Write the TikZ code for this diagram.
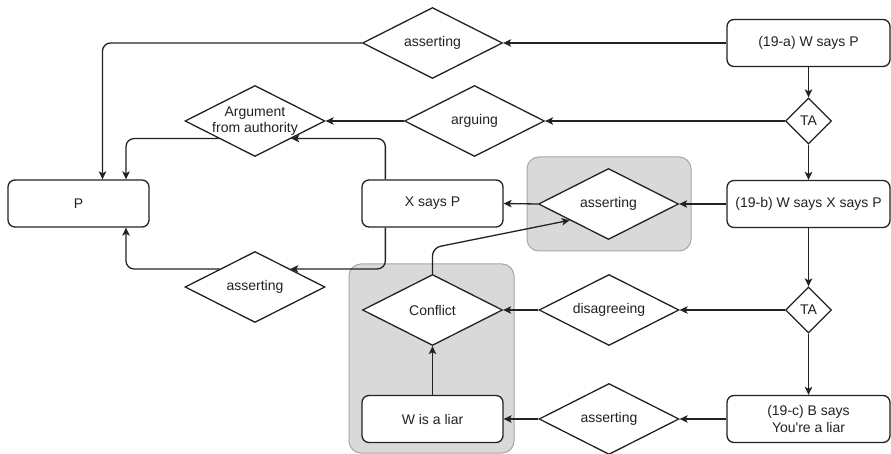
\documentclass[tikz,border=0pt]{standalone}
\usepackage{fontspec}
\setmainfont{Liberation Sans}
\usetikzlibrary{shapes.geometric,arrows.meta,calc}

\definecolor{ink}{HTML}{222222}
\definecolor{groupfill}{HTML}{D9D9D9}
\definecolor{groupline}{HTML}{A6A6A6}

\tikzset{
  every node/.style={font=\fontsize{14}{16.5}\selectfont, text=ink},
  stmt/.style={draw=ink, fill=white, line width=1.3pt, rounded corners=7pt,
    minimum height=47pt, align=center, inner sep=2pt},
  smallbox/.style={stmt, minimum width=141pt},
  widebox/.style={stmt, minimum width=163pt},
  act/.style={diamond, draw=ink, fill=white, line width=1.3pt, inner sep=0pt,
    minimum width=140pt, minimum height=71pt,
    label={[align=center, font=\fontsize{14}{16.5}\selectfont, text=ink]center:#1}},
  ta/.style={diamond, draw=ink, fill=white, line width=1.3pt, inner sep=0pt,
    minimum width=46pt, minimum height=46pt},
  group/.style={draw=groupline, fill=groupfill, line width=1pt, rounded corners=12pt},
  arr/.style={draw=ink, line width=1.3pt, rounded corners=8pt,
    -{Stealth[length=8pt,width=7.5pt,inset=2pt]}}
}

\begin{document}
\begin{tikzpicture}[x=1pt, y=-1pt]
  \useasboundingbox (0,0) rectangle (891,454);

  % shaded groups
  \path[group] (527,157) rectangle (691,251);
  \path[group] (349,264) rectangle (514,453);

  % statements
  \node[smallbox] (P)    at (78.5,203.5) {P};
  \node[smallbox] (xp)   at (432.5,203.5) {X says P};
  \node[smallbox] (liar) at (432.5,419) {W is a liar};
  \node[widebox]  (a19)  at (808.5,43) {(19-a) W says P};
  \node[widebox]  (b19)  at (808.5,204) {(19-b) W says X says P};
  \node[widebox]  (c19)  at (808.5,419) {(19-c) B says\\You\textquotesingle re a liar};

  % TA decision points
  \node[ta] (ta1) at (808.5,121) {TA};
  \node[ta] (ta2) at (808.5,310) {TA};

  % speech acts and relations
  \node[act={asserting}] (as1) at (432.5,43) {};
  \node[act={arguing}] (arg) at (474.5,121) {};
  \node[act={Argument\\from authority}] (auth) at (255,121) {};
  \node[act={asserting}] (as2) at (608.5,204) {};
  \node[act={asserting}] (as3) at (255,287) {};
  \node[act={Conflict}] (conf) at (432.5,310) {};
  \node[act={disagreeing}] (dis) at (609,310) {};
  \node[act={asserting}] (as4) at (609,419) {};

  % connectors
  \draw[arr] (a19.west) -- (as1.east);
  \draw[arr] (as1.west) -| ($(P.north)+(24,0)$);
  \draw[arr] (a19.south) -- (ta1.north);
  \draw[arr] (ta1.west) -- (arg.east);
  \draw[arr] (arg.west) -- (auth.east);
  \draw[arr] (ta1.south) -- (b19.north);
  \draw[arr] (b19.west) -- (as2.east);
  \draw[arr] (as2.west) -- (xp.east);
  \draw[arr] ($(xp.north west)+(24,0)$) |- ($(auth.east)!0.486!(auth.south)$);
  \draw[arr] ($(auth.west)!0.486!(auth.south)$) -| ($(P.north)+(47.5,0)$);
  \draw[arr] ($(xp.south west)+(24,0)$) |- ($(as3.east)!0.5!(as3.north)$);
  \draw[arr] ($(as3.west)!0.5!(as3.north)$) -| ($(P.south)+(47.5,0)$);
  \draw[arr] (conf.north) -- ++(0,-26) -- ($(as2.west)!0.45!(as2.south)$);
  \draw[arr] (b19.south) -- (ta2.north);
  \draw[arr] (ta2.west) -- (dis.east);
  \draw[arr] (dis.west) -- (conf.east);
  \draw[arr] (ta2.south) -- (c19.north);
  \draw[arr] (c19.west) -- (as4.east);
  \draw[arr] (as4.west) -- (liar.east);
  \draw[arr] (liar.north) -- (conf.south);
\end{tikzpicture}
\end{document}
